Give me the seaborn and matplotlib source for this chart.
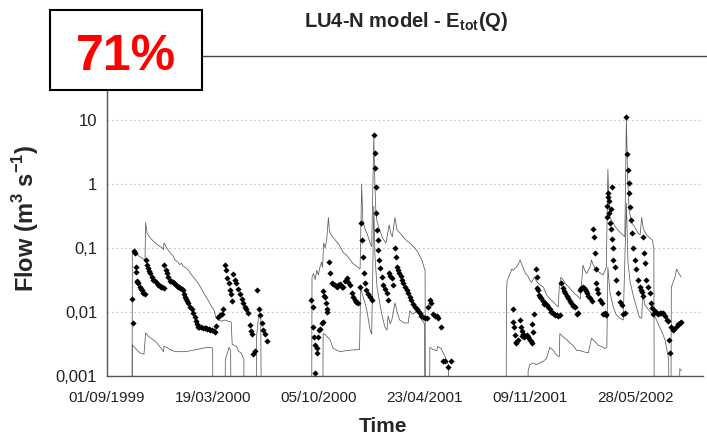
import numpy as np
import pandas as pd
import seaborn as sns
import matplotlib.pyplot as plt
from matplotlib.patches import Rectangle
from matplotlib.lines import Line2D
from matplotlib.ticker import NullLocator

sns.set_theme(style='white')
plt.rcParams['font.family'] = ['Liberation Sans', 'DejaVu Sans']
plt.rcParams['mathtext.fontset'] = 'custom'
plt.rcParams['mathtext.rm'] = 'Liberation Sans'
plt.rcParams['mathtext.bf'] = 'Liberation Sans:bold'

# axis set-up
start = pd.Timestamp('1999-09-01')
tick_days = [0, 200, 400, 600, 800, 1000]
flow_ticks = [0.001, 0.01, 0.1, 1, 10]
flow_labels = ['0,001', '0,01', '0,1', '1', '10']

Z = 1e-5    # flow falls to zero -> line drops off the log axis
N = np.nan  # break between line segments

# observed flow (days since 01/09/1999, m3/s)
obs_day_1 = [48, 50, 52, 53, 54, 55, 56, 59, 62, 66, 69, 72, 73, 76, 78, 82, 85, 88, 91, 94,
             97, 102, 107, 108, 111, 113, 116, 119, 124, 129, 134, 138, 141, 144, 146, 148, 151, 154, 157, 160,
             163, 166, 168, 170, 173, 178, 185, 190, 195, 198, 202, 204, 207, 211, 214, 217, 220, 223, 225, 227,
             230, 232, 234, 236, 239, 242, 245, 248, 252, 255, 258, 261, 264, 267, 270, 272, 274, 276, 281, 284,
             287, 290, 293, 296, 299, 302,
             57, 64, 80, 100, 105, 121, 126, 131, 136, 149, 175, 181, 188, 193]
obs_q_1 = [0.016, 0.0067, 0.09, 0.085, 0.05, 0.042, 0.031, 0.028, 0.025, 0.022, 0.02, 0.019, 0.065, 0.055, 0.048, 0.04, 0.035, 0.032, 0.03, 0.028,
           0.026, 0.025, 0.024, 0.054, 0.045, 0.04, 0.035, 0.031, 0.029, 0.027, 0.025, 0.024, 0.023, 0.022, 0.019, 0.017, 0.015, 0.014, 0.012, 0.011,
           0.0095, 0.0085, 0.0072, 0.0064, 0.0058, 0.0058, 0.0057, 0.0055, 0.0053, 0.0052, 0.005, 0.0049, 0.006, 0.0083, 0.009, 0.0093, 0.011, 0.054, 0.045, 0.034,
           0.028, 0.022, 0.019, 0.015, 0.039, 0.032, 0.028, 0.023, 0.019, 0.016, 0.014, 0.012, 0.011, 0.0095, 0.0062, 0.005, 0.0045, 0.0022, 0.0025, 0.022,
           0.011, 0.009, 0.0068, 0.0052, 0.0045, 0.0035,
           0.029, 0.023, 0.043, 0.0255, 0.0245, 0.03, 0.028, 0.026, 0.0245, 0.016, 0.0058, 0.0057, 0.0056, 0.0054]

obs_day_2 = [387, 389, 390, 392, 393, 394, 397, 398, 400, 402, 404, 406, 408, 409, 411, 412, 414, 416, 417, 421,
             422, 425, 428, 431, 435, 438, 441, 444, 447, 451, 454, 457, 460, 463, 466, 469, 472, 475, 479, 481,
             482, 484, 486, 488, 491, 494, 498, 501, 506, 507, 508, 509, 510, 511, 512, 513, 515, 517, 520, 523,
             526, 529, 532, 534, 536, 539, 542, 545, 547, 549, 551, 553, 556, 558, 561, 564, 567, 570, 573, 576,
             580, 583, 586, 589, 592, 595, 598, 602, 605, 608, 611, 614, 617, 621, 624, 627, 633, 636, 640, 646,
             652]
obs_q_2 = [0.0154, 0.012, 0.0059, 0.004, 0.0011, 0.0031, 0.0027, 0.0023, 0.0041, 0.0052, 0.0055, 0.0067, 0.007, 0.021, 0.018, 0.017, 0.0139, 0.0112, 0.01, 0.06,
           0.041, 0.028, 0.027, 0.026, 0.0245, 0.026, 0.027, 0.025, 0.0245, 0.03, 0.034, 0.029, 0.0265, 0.0198, 0.017, 0.0154, 0.0145, 0.0139, 0.0245, 0.246,
           0.133, 0.072, 0.041, 0.028, 0.022, 0.019, 0.0173, 0.0154, 5.8, 3.0, 1.8, 0.9, 0.35, 0.19, 0.133, 0.093, 0.065, 0.048, 0.035, 0.0265,
           0.023, 0.0198, 0.0154, 0.041, 0.037, 0.034, 0.0265, 0.1, 0.072, 0.05, 0.045, 0.041, 0.036, 0.0316, 0.028, 0.0245, 0.022, 0.0198, 0.017, 0.0154,
           0.0135, 0.012, 0.011, 0.0104, 0.0095, 0.0087, 0.0085, 0.0082, 0.008, 0.012, 0.0154, 0.014, 0.0093, 0.0088, 0.0087, 0.0082, 0.0059, 0.0017, 0.0017, 0.0014,
           0.0017]

obs_day_3 = [768, 769, 771, 772, 774, 775, 778, 781, 783, 785, 786, 788, 790, 791, 794, 796, 797, 800, 802, 804,
             805, 807, 809, 812, 813, 814, 816, 818, 820, 822, 825, 829, 832, 835, 838, 841, 844, 848, 851, 854,
             858, 860, 863, 867, 870, 873, 876, 879, 882, 886, 890, 892, 895, 898, 901, 904, 908, 911, 914, 917,
             920, 921, 923, 925, 926, 928, 930, 933, 936, 939, 942, 945, 946, 947, 948, 949, 950, 951, 952, 953,
             954, 955, 956, 957, 958, 961, 964, 967, 971, 974, 977, 980, 983, 984, 986, 987, 988, 990, 991, 993,
             996, 999, 1002, 1005, 1008, 1012, 1014, 1015, 1016, 1018, 1021, 1024, 1027, 1030, 1034, 1037, 1040, 1043, 1046, 1049,
             1052, 1056, 1059, 1062, 1063, 1065, 1068, 1071, 1074, 1078, 1081, 1084, 1087,
             827, 846, 865, 884, 906, 944, 1010, 1032]
obs_q_3 = [0.0111, 0.007, 0.0059, 0.0043, 0.0034, 0.0033, 0.0036, 0.0075, 0.0059, 0.005, 0.0042, 0.0046, 0.004, 0.0042, 0.0044, 0.0041, 0.004, 0.0037, 0.0035, 0.0033,
           0.0064, 0.0048, 0.0093, 0.047, 0.035, 0.024, 0.022, 0.0185, 0.0172, 0.0164, 0.015, 0.0139, 0.013, 0.012, 0.011, 0.01, 0.0095, 0.009, 0.0089, 0.0087,
           0.009, 0.028, 0.0237, 0.0198, 0.0175, 0.0164, 0.015, 0.0139, 0.0125, 0.012, 0.0093, 0.0095, 0.022, 0.024, 0.0245, 0.0226, 0.0198, 0.018, 0.0164, 0.015,
           0.2, 0.15, 0.083, 0.047, 0.028, 0.023, 0.0198, 0.0154, 0.0139, 0.0093, 0.0097, 0.009, 0.45, 0.3, 0.63, 0.72, 0.55, 0.35, 0.25, 0.4,
           0.2, 0.14, 0.9, 0.1, 0.065, 0.05, 0.0316, 0.0198, 0.0143, 0.0129, 0.0093, 0.0097, 11.0, 2.9, 1.66, 1.05, 0.72, 0.44, 0.27, 0.17,
           0.1, 0.065, 0.047, 0.0316, 0.0245, 0.0205, 0.018, 0.15, 0.083, 0.058, 0.0316, 0.0245, 0.0198, 0.0139, 0.0093, 0.0104, 0.0098, 0.0093, 0.0095, 0.0098,
           0.0097, 0.0087, 0.0075, 0.0072, 0.0037, 0.0023, 0.0059, 0.0052, 0.0055, 0.006, 0.0064, 0.0067, 0.007,
           0.0135, 0.0092, 0.021, 0.0122, 0.021, 0.0092, 0.022, 0.0115]

# upper bound of the model band
upper_day = [47, 48, 52, 56, 60, 66, 72, 73, 76, 80, 85, 91, 97, 105, 107, 108, 113, 119, 125, 129,
             134, 138, 141, 144, 148, 154, 160, 166, 173, 180, 186, 192, 198, 202, 204, 207, 211, 217, 223, 229,
             235, 237, 241, 245, 250, 254, 259, 260, N,
             282, 283, 287, 291, 293, N,
             387, 388, 391, 394, 397, 400, 403, 406, 408, 410, 413, 416, 419, 421, 427, 433, 440, 447, 455, 465,
             472, 479, 482, 484, 488, 492, 498, 501, 505, 507, 509, 511, 516, 522, 528, 534, 537, 540, 545, 549,
             555, 560, 567, 573, 580, 587, 592, 596, 600, 602, 603, N,
             610, 611, 617, 624, 626, 632, 640, 646, 649, N,
             755, 756, 757, 760, 762, 764, 766, 769, 772, 775, 778, 780, 782, 785, 788, 792, 797, 800, 804, 807,
             809, 813, 818, 826, 832, 838, 845, 850, 854, 856, 859, 863, 867, 873, 879, 886, 892, 896, 899, 901,
             904, 908, 911, 914, 917, 920, 923, 927, 933, 939, 945, 948, 950, 952, 955, 958, 961, 967, 973, 980,
             983, 985, 988, 993, 999, 1005, 1009, 1012, 1015, 1021, 1027, 1032, 1035, 1036, N,
             1067, 1068, 1072, 1075, 1078, 1081, 1084, 1087]
upper_q = [Z, 0.09, 0.095, 0.08, 0.075, 0.07, 0.065, 0.25, 0.17, 0.15, 0.135, 0.12, 0.11, 0.1, 0.095, 0.12, 0.1, 0.085, 0.075, 0.065,
           0.06, 0.055, 0.058, 0.052, 0.05, 0.045, 0.038, 0.033, 0.028, 0.022, 0.018, 0.015, 0.012, 0.011, 0.0095, 0.008, 0.0075, 0.0072, 0.0075, 0.0072,
           0.007, 0.0031, 0.003, 0.0029, 0.0024, 0.0023, 0.0018, Z, N,
           Z, 0.004, 0.009, 0.008, Z, N,
           Z, 0.035, 0.04, 0.032, 0.045, 0.038, 0.05, 0.06, 0.05, 0.12, 0.1, 0.14, 0.3, 0.18, 0.15, 0.13, 0.11, 0.085, 0.075, 0.058,
           0.052, 0.047, 1.0, 0.28, 0.2, 0.17, 0.12, 0.105, 5.5, 1.0, 0.35, 0.26, 0.19, 0.14, 0.12, 0.23, 0.17, 0.15, 0.3, 0.19,
           0.17, 0.15, 0.13, 0.12, 0.105, 0.09, 0.075, 0.065, 0.05, 0.045, Z, N,
           Z, 0.0028, 0.0026, 0.0025, 0.0029, 0.0027, 0.002, 0.0015, Z, N,
           Z, 0.0173, 0.03, 0.035, 0.038, 0.042, 0.047, 0.045, 0.048, 0.05, 0.055, 0.06, 0.065, 0.055, 0.048, 0.04, 0.036, 0.0316, 0.029, 0.033,
           0.035, 0.03, 0.027, 0.0245, 0.0185, 0.016, 0.0143, 0.0129, 0.012, 0.0245, 0.035, 0.032, 0.028, 0.025, 0.022, 0.019, 0.0173, 0.016, 0.034, 0.054,
           0.045, 0.04, 0.045, 0.05, 0.065, 0.055, 0.05, 0.045, 0.041, 0.038, 0.05, 1.7, 0.5, 0.3, 0.27, 0.25, 0.22, 0.19, 0.17, 0.15,
           11.0, 1.5, 0.4, 0.25, 0.21, 0.17, 0.16, 0.3, 0.2, 0.16, 0.145, 0.133, 0.1, Z, N,
           Z, 0.0245, 0.03, 0.035, 0.047, 0.042, 0.038, 0.035]

# lower bound of the model band
lower_day = [47, 48, 52, 56, 62, 70, 73, 78, 85, 91, 97, 104, 107, 108, 113, 119, 129, 138, 148, 160,
             170, 180, 190, 198, 200, 201, N,
             222, 224, 228, 231, 234, 236, N,
             408, 409, 412, 422, 428, 441, 454, 475, 478, 480, 484, 488, 492, 498, 501, 505, 507, 511, 516, 520,
             526, 530, 532, 536, 539, 545, 549, 554, 562, 570, 573, 579, 588, 596, 601, 602, N,
             796, 797, 800, 807, 813, 819, 826, 832, 838, 845, 851, 856, 857, 863, 870, 876, 882, 889, 895, 901,
             911, 917, 923, 930, 936, 942, 946, 948, 952, 958, 964, 971, 977, 983, 986, 990, 996, 1002, 1008, 1012,
             1014, 1018, 1024, 1030, 1034, 1040, 1046, 1052, 1056, 1060, 1063, 1065, N,
             1083, 1084, 1087]
lower_q = [Z, 0.0031, 0.0028, 0.0026, 0.0023, 0.0022, 0.0047, 0.0042, 0.0038, 0.0035, 0.0031, 0.0026, 0.0024, 0.0029, 0.0028, 0.0026, 0.0024, 0.0024, 0.0024, 0.0025,
           0.0026, 0.0027, 0.0028, 0.0028, 0.0027, Z, N,
           Z, 0.0018, 0.0023, 0.0028, 0.0025, Z, N,
           Z, 0.0046, 0.0045, 0.0037, 0.0027, 0.0024, 0.0025, 0.0026, 0.0026, 0.024, 0.018, 0.014, 0.0104, 0.0052, 0.0045, 0.45, 0.08, 0.0245, 0.014, 0.0093,
           0.0058, 0.0052, 0.0087, 0.0065, 0.0075, 0.0139, 0.01, 0.0075, 0.0068, 0.0067, 0.0104, 0.0093, 0.0104, 0.0075, 0.0065, Z, N,
           Z, 0.0012, 0.0015, 0.0016, 0.0015, 0.0016, 0.0017, 0.0019, 0.0028, 0.0025, 0.0021, 0.002, 0.0046, 0.0041, 0.0037, 0.0033, 0.003, 0.0025, 0.0025, 0.0024,
           0.0023, 0.0039, 0.0035, 0.003, 0.0029, 0.0027, 0.0028, 0.05, 0.02, 0.012, 0.009, 0.008, 0.0075, 0.5, 0.06, 0.03, 0.018, 0.012, 0.0082, 0.008,
           0.02, 0.013, 0.011, 0.0097, 0.0095, 0.0075, 0.0058, 0.0045, 0.0037, 0.0025, 0.0018, Z, N,
           Z, 0.0013, 0.0012]

obs_day = obs_day_1 + obs_day_2 + obs_day_3
obs_q = obs_q_1 + obs_q_2 + obs_q_3
assert len(obs_day) == len(obs_q)
assert len(upper_day) == len(upper_q) and len(lower_day) == len(lower_q)


def band_frame(days, q, name):
    df = pd.DataFrame({'day': days, 'q': q})
    df['seg'] = df['q'].isna().cumsum()
    df = df.dropna().copy()
    df['date'] = start + pd.to_timedelta(df['day'], unit='D')
    df['unit'] = name + df['seg'].astype(str)
    return df


bands = pd.concat([band_frame(upper_day, upper_q, 'up'), band_frame(lower_day, lower_q, 'lo')])
obs = pd.DataFrame({'date': start + pd.to_timedelta(obs_day, unit='D'), 'q': obs_q})

W, H = 707, 437
fig = plt.figure(figsize=(W / 100, H / 100), dpi=100)
ax = fig.add_axes([107 / W, 61 / H, 596 / W, 320 / H])
ax.set_yscale('log')

sns.lineplot(data=bands, x='date', y='q', units='unit', estimator=None,
             color='#5a5a5a', linewidth=0.55, ax=ax)
sns.scatterplot(data=obs, x='date', y='q', marker='D', s=10, color='black',
                linewidth=0, ax=ax, zorder=3)

ax.set_ylim(1e-3, 100)
ax.set_xlim(start, start + pd.Timedelta(days=1128))
ax.set_yticks(flow_ticks)
ax.set_yticklabels(flow_labels)
ax.yaxis.set_minor_locator(NullLocator())
ticks = [start + pd.Timedelta(days=d) for d in tick_days]
ax.set_xticks(ticks)
ax.set_xticklabels([t.strftime('%d/%m/%Y') for t in ticks])
ax.set_xlabel('')
ax.set_ylabel('')

ax.grid(axis='y', color='#c4c4c4', linestyle=(0, (1.5, 2.5)), linewidth=0.8)
ax.grid(axis='x', visible=False)
for s in ['top', 'right']:
    ax.spines[s].set_visible(False)
for s in ['left', 'bottom']:
    ax.spines[s].set_color('#555555')
    ax.spines[s].set_linewidth(1.0)
ax.tick_params(axis='both', direction='out', length=5, width=0.8, color='#555555', labelcolor='#222222')
ax.tick_params(axis='y', labelsize=12, pad=2)
ax.tick_params(axis='x', labelsize=11, pad=6)

# overlay: score box and title with its rule
fig.add_artist(Rectangle((50 / W, 1 - 90 / H), 152 / W, 80 / H, transform=fig.transFigure,
                         facecolor='white', edgecolor='black', linewidth=1.5, zorder=5))
fig.text(126 / W, 1 - 70 / H, '71%', color='#ff0000', fontsize=36, fontweight='bold',
         ha='center', va='baseline', zorder=6)
fig.add_artist(Line2D([202 / W, 1.0], [1 - 56 / H, 1 - 56 / H], transform=fig.transFigure,
                      color='#444444', linewidth=1.0))
fig.text(406 / W, 1 - 27 / H, r'LU4-N model - E$_{\mathbf{tot}}$(Q)', fontsize=14.5,
         fontweight='bold', ha='center', va='baseline')

fig.text(26 / W, 1 - 218 / H, r'Flow (m$^{\mathbf{3}}$ s$^{\mathbf{-1}}$)', rotation=90,
         fontsize=17, fontweight='bold', ha='center', va='center')
fig.text(383 / W, 1 - 432 / H, 'Time', fontsize=15, fontweight='bold', ha='center', va='baseline')

fig.savefig('out.png', dpi=100)
